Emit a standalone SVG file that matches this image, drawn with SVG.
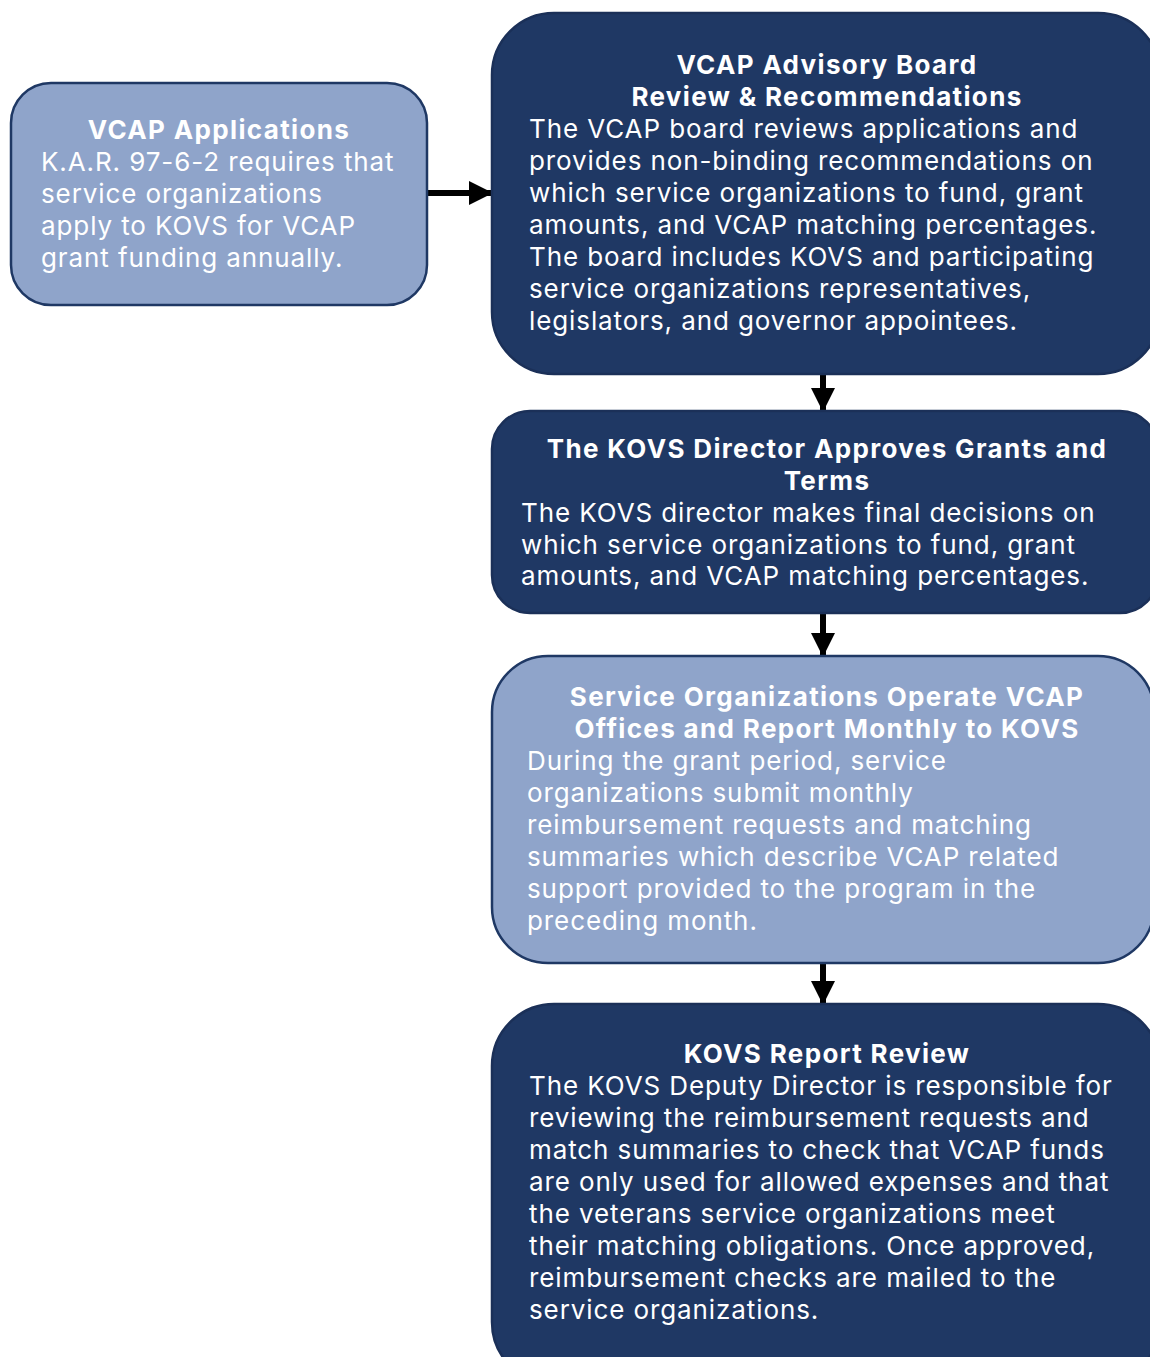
<svg xmlns="http://www.w3.org/2000/svg" width="1150" height="1357" viewBox="0 0 1150 1357">
<defs>
<style>
.dark{fill:#1f3864;stroke:#1b3058;stroke-width:2.5}
.light{fill:#8fa4ca;stroke:#1f3864;stroke-width:2.5}
.t{font-family:Inter,"Open Sans","Liberation Sans",sans-serif;font-weight:700;font-size:26px;letter-spacing:1.35px;fill:#fff;text-anchor:middle}
.b{font-family:Inter,"Open Sans","Liberation Sans",sans-serif;font-size:26px;letter-spacing:0.9px;fill:#fff}
.c{stroke:#000;stroke-width:6;fill:none}
</style>
<marker id="ah" markerUnits="userSpaceOnUse" markerWidth="24" markerHeight="24" refX="22" refY="12" orient="auto">
<path d="M0,0 L24,12 L0,24 Z" fill="#000"/>
</marker>
</defs>
<rect width="1150" height="1357" fill="#fff"/>
<g id="connectors">
<line class="c" x1="427" y1="193" x2="491" y2="193" marker-end="url(#ah)"/>
<line class="c" x1="823" y1="374" x2="823" y2="410" marker-end="url(#ah)"/>
<line class="c" x1="823" y1="613" x2="823" y2="655" marker-end="url(#ah)"/>
<line class="c" x1="823" y1="963" x2="823" y2="1003" marker-end="url(#ah)"/>
</g>
<g id="n1">
<rect class="light" x="11" y="83" width="416" height="222" rx="40"/>
<text class="t" x="219" y="139">VCAP Applications</text>
<text class="b" x="41" y="171">K.A.R. 97-6-2 requires that</text>
<text class="b" x="41" y="203">service organizations</text>
<text class="b" x="41" y="235">apply to KOVS for VCAP</text>
<text class="b" x="41" y="267">grant funding annually.</text>
</g>
<g id="n2">
<rect class="dark" x="492" y="13" width="668" height="361" rx="62"/>
<text class="t" x="827" y="74">VCAP Advisory Board</text>
<text class="t" x="827" y="106">Review &amp; Recommendations</text>
<text class="b" x="529" y="138">The VCAP board reviews applications and</text>
<text class="b" x="529" y="170">provides non-binding recommendations on</text>
<text class="b" x="529" y="202">which service organizations to fund, grant</text>
<text class="b" x="529" y="234">amounts, and VCAP matching percentages.</text>
<text class="b" x="529" y="266">The board includes KOVS and participating</text>
<text class="b" x="529" y="298">service organizations representatives,</text>
<text class="b" x="529" y="330">legislators, and governor appointees.</text>
</g>
<g id="n3">
<rect class="dark" x="492" y="411" width="666" height="202" rx="38"/>
<text class="t" x="827" y="458">The KOVS Director Approves Grants and</text>
<text class="t" x="827" y="490">Terms</text>
<text class="b" x="521" y="522">The KOVS director makes final decisions on</text>
<text class="b" x="521" y="554">which service organizations to fund, grant</text>
<text class="b" x="521" y="585">amounts, and VCAP matching percentages.</text>
</g>
<g id="n4">
<rect class="light" x="492" y="656" width="662" height="307" rx="56"/>
<text class="t" x="827" y="706">Service Organizations Operate VCAP</text>
<text class="t" x="827" y="738">Offices and Report Monthly to KOVS</text>
<text class="b" x="527" y="770">During the grant period, service</text>
<text class="b" x="527" y="802">organizations submit monthly</text>
<text class="b" x="527" y="834">reimbursement requests and matching</text>
<text class="b" x="527" y="866">summaries which describe VCAP related</text>
<text class="b" x="527" y="898">support provided to the program in the</text>
<text class="b" x="527" y="930">preceding month.</text>
</g>
<g id="n5">
<rect class="dark" x="492" y="1004" width="668" height="380" rx="62"/>
<text class="t" x="827" y="1063">KOVS Report Review</text>
<text class="b" x="529" y="1095">The KOVS Deputy Director is responsible for</text>
<text class="b" x="529" y="1127">reviewing the reimbursement requests and</text>
<text class="b" x="529" y="1159">match summaries to check that VCAP funds</text>
<text class="b" x="529" y="1191">are only used for allowed expenses and that</text>
<text class="b" x="529" y="1223">the veterans service organizations meet</text>
<text class="b" x="529" y="1255">their matching obligations. Once approved,</text>
<text class="b" x="529" y="1287">reimbursement checks are mailed to the</text>
<text class="b" x="529" y="1319">service organizations.</text>
</g>
</svg>
